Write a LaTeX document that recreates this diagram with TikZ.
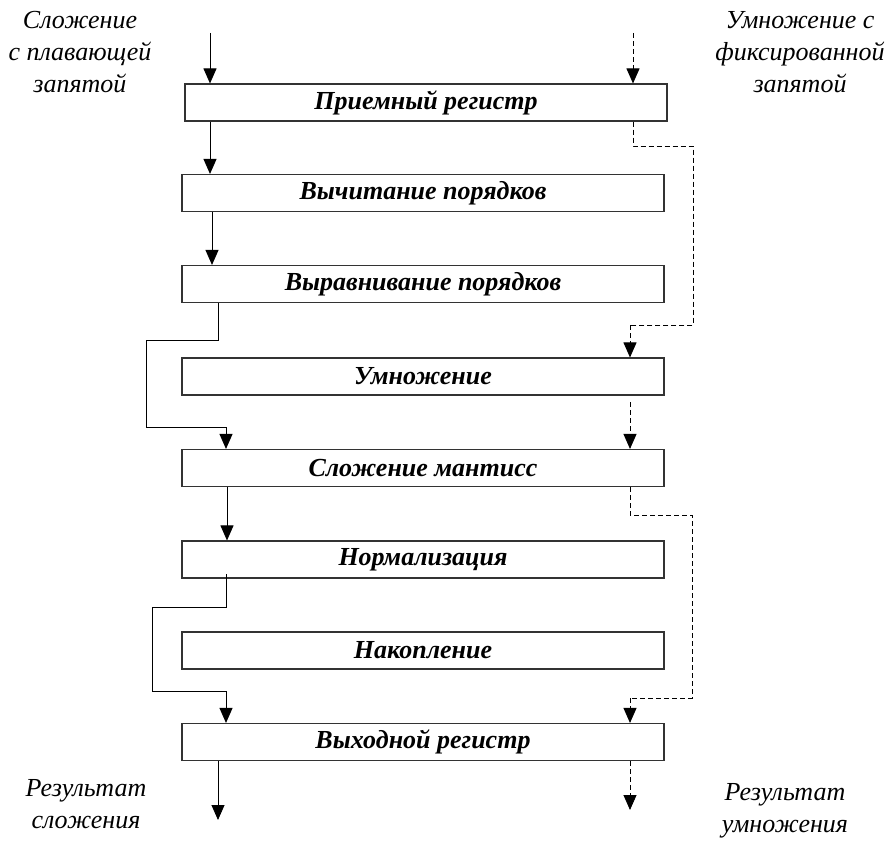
\documentclass[tikz,border=0pt]{standalone}
\usepackage{fontspec}
\setmainfont{Liberation Serif}
\usetikzlibrary{arrows.meta}
\begin{document}
\begin{tikzpicture}[x=1pt,y=-1pt,
  stage/.style={draw, line width=1.1pt, draw=black!80, minimum width=482pt, minimum height=37pt,
    inner sep=0pt, font=\fontsize{26}{30}\selectfont\bfseries\itshape},
  flow/.style={line width=0.9pt, -{Triangle[length=15pt,width=13pt]}},
  flowline/.style={line width=0.9pt},
  mulflow/.style={line width=0.9pt, dash pattern=on 5pt off 3pt, -{Triangle[length=15pt,width=13pt]}},
  mulline/.style={line width=0.9pt, dash pattern=on 5pt off 3pt},
  caption/.style={align=center, font=\fontsize{26}{32}\selectfont\itshape, inner sep=0pt}]
\useasboundingbox (0,0) rectangle (888,850);

% pipeline stages
\node[stage] (b1) at (426,102.5) {Приемный регистр};
\node[stage] (b2) at (423,193) {Вычитание порядков};
\node[stage] (b3) at (423,284) {Выравнивание порядков};
\node[stage] (b4) at (423,376.5) {Умножение};
\node[stage] (b5) at (423,468) {Сложение мантисс};
\node[stage] (b6) at (423,559.5) {Нормализация};
\node[stage] (b7) at (423,650.5) {Накопление};
\node[stage] (b8) at (423,742) {Выходной регистр};

% side captions
\node[caption] (tl) at (80,52) {Сложение\\с плавающей\\запятой};
\node[caption] (tr) at (800,52) {Умножение с\\фиксированной\\запятой};
\node[caption] (bl) at (86,804) {Результат\\сложения};
\node[caption] (br) at (785,811) {Результат\\умножения};

% floating-point addition path (solid)
\coordinate (inA) at (210,33);
\coordinate (s23) at (212,0);
\coordinate (s56) at (227,0);
\draw[flow] (inA) -- (inA |- b1.north);
\draw[flow] (inA |- b1.south) -- (inA |- b2.north);
\draw[flow] (s23 |- b2.south) -- (s23 |- b3.north);
\coordinate (a0) at (218,303);
\coordinate (a1) at (218,340);
\coordinate (a2) at (146,340);
\coordinate (a3) at (146,427);
\coordinate (a4) at (226,427);
\draw[flowline] (a0) -- (a1) -- (a2) -- (a3) -- (a4);
\draw[flow] (a4) -- (a4 |- b5.north);
\draw[flow] (s56 |- b5.south) -- (s56 |- b6.north);
\coordinate (c0) at (226,574);
\coordinate (c1) at (226,607);
\coordinate (c2) at (152,607);
\coordinate (c3) at (152,691);
\coordinate (c4) at (226,691);
\draw[flowline] (c0) -- (c1) -- (c2) -- (c3) -- (c4);
\draw[flow] (c4) -- (c4 |- b8.north);
\coordinate (outA) at (218,820);
\draw[flow] (outA |- b8.south) -- (outA);

% fixed-point multiplication path (dashed)
\coordinate (inM) at (633,33);
\draw[mulflow] (inM) -- (inM |- b1.north);
\coordinate (m1) at (633,146);
\coordinate (m2) at (693,146);
\coordinate (m3) at (693,325);
\coordinate (m4) at (630,325);
\draw[mulline] (m1 |- b1.south) -- (m1) -- (m2) -- (m3) -- (m4);
\draw[mulflow] (m4) -- (m4 |- b4.north);
\coordinate (m5) at (630,402);
\draw[mulflow] (m5) -- (m5 |- b5.north);
\coordinate (n1) at (630,515);
\coordinate (n2) at (692,515);
\coordinate (n3) at (692,698);
\coordinate (n4) at (630,698);
\draw[mulline] (n1 |- b5.south) -- (n1) -- (n2) -- (n3) -- (n4);
\draw[mulflow] (n4) -- (n4 |- b8.north);
\coordinate (outM) at (630,810);
\draw[mulflow] (outM |- b8.south) -- (outM);
\end{tikzpicture}
\end{document}
